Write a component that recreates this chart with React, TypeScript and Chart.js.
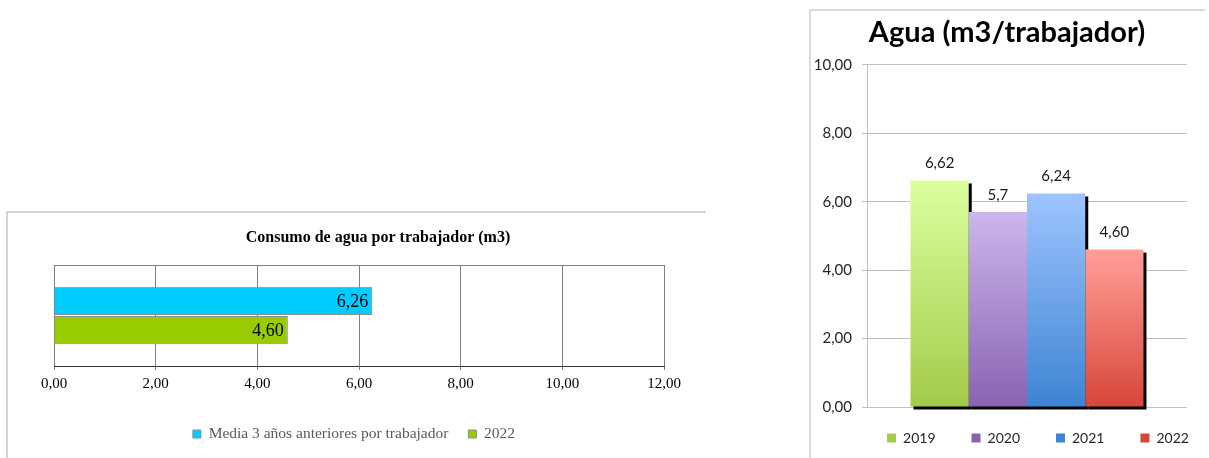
import React, { useEffect, useRef } from 'react';
import { Chart, registerables } from 'chart.js';

Chart.register(...registerables);

// ---------- Data: left chart ----------
const consumoTitle = 'Consumo de agua por trabajador (m3)';
const consumoCategories = [''];
const consumoSeriesNames = ['Media 3 años anteriores por trabajador', '2022'];
const consumoMedia = [6.26];
const consumo2022 = [4.6];
const consumoAxisMin = 0;
const consumoAxisMax = 12;
const consumoAxisStep = 2;

// ---------- Data: right chart ----------
const aguaTitle = 'Agua (m3/trabajador)';
const aguaCategories = [''];
const aguaYears = ['2019', '2020', '2021', '2022'];
const aguaValues = [6.62, 5.7, 6.24, 4.6];
const aguaValueLabels = ['6,62', '5,7', '6,24', '4,60'];
const aguaAxisMin = 0;
const aguaAxisMax = 10;
const aguaAxisStep = 2;

// ---------- Styles ----------
const SERIF = "'Liberation Serif', 'Times New Roman', serif";
const SANS = "Lato, 'Open Sans', sans-serif";
const aguaTopColors = ['#DBFF9E', '#CCB6EC', '#9EC4FF', '#FF9F98'];
const aguaBottomColors = ['#A3CB4A', '#8963B2', '#3D84D2', '#D8463A'];
const aguaMidColors = ['#BCE46F', '#A98CCF', '#6DA4E8', '#EC7268'];

const fmtComma2 = (v: any) => Number(v).toFixed(2).replace('.', ',');

function ConsumoChart() {
  const ref = useRef<HTMLCanvasElement>(null);
  useEffect(() => {
    const framePlugin = {
      id: 'consumoFrame',
      beforeDatasetsDraw(chart: any) {
        const c = chart.ctx;
        const a = chart.chartArea;
        c.save();
        c.strokeStyle = '#808080';
        c.lineWidth = 1;
        c.beginPath();
        c.moveTo(a.left, a.top + 0.5);
        c.lineTo(a.right, a.top + 0.5);
        c.stroke();
        c.restore();
      },
      afterDraw(chart: any) {
        const c = chart.ctx;
        c.save();
        c.strokeStyle = '#C8C8C8';
        c.lineWidth = 1.5;
        c.beginPath();
        c.moveTo(7, chart.height);
        c.lineTo(7, 12);
        c.lineTo(706, 12);
        c.stroke();
        c.restore();
      },
      afterLayout(chart: any) {
        if (chart.titleBlock) {
          chart.titleBlock.left += 19;
          chart.titleBlock.right += 19;
        }
        if (chart.legend) {
          chart.legend.left -= 5;
          chart.legend.right -= 5;
        }
      },
    };
    const valuePlugin = {
      id: 'consumoValues',
      afterDatasetsDraw(chart: any) {
        const c = chart.ctx;
        c.save();
        c.font = "18px 'Liberation Serif', serif";
        c.fillStyle = '#000';
        c.textAlign = 'right';
        c.textBaseline = 'middle';
        chart.data.datasets.forEach((ds: any, i: number) => {
          const meta = chart.getDatasetMeta(i);
          meta.data.forEach((el: any, j: number) => {
            const p = el.getProps(['x', 'y'], true);
            c.fillText(fmtComma2(ds.data[j]), p.x - 4, p.y + 1);
          });
        });
        c.restore();
      },
    };
    const chart = new Chart(ref.current as HTMLCanvasElement, {
      type: 'bar',
      data: {
        labels: consumoCategories,
        datasets: [
          {
            label: consumoSeriesNames[0],
            data: consumoMedia,
            backgroundColor: '#00CCFF',
            borderColor: '#8C8C8C',
            borderWidth: 1,
            categoryPercentage: 0.58,
            barPercentage: 0.97,
          },
          {
            label: consumoSeriesNames[1],
            data: consumo2022,
            backgroundColor: '#99CC00',
            borderColor: '#8C8C8C',
            borderWidth: 1,
            categoryPercentage: 0.58,
            barPercentage: 0.97,
          },
        ],
      },
      options: {
        indexAxis: 'y',
        responsive: false,
        animation: false,
        layout: { padding: { left: 54, right: 46, top: 0, bottom: 6.25 } },
        scales: {
          x: {
            min: consumoAxisMin,
            max: consumoAxisMax,
            ticks: {
              stepSize: consumoAxisStep,
              callback: (v: any) => fmtComma2(v),
              font: { family: SERIF, size: 15 },
              color: '#000',
              padding: 5,
              maxRotation: 0,
            },
            grid: { color: '#808080', tickColor: '#808080', tickLength: 4, lineWidth: 1 },
            border: { display: true, color: '#303030', width: 1 },
            afterFit: (s: any) => {
              s.height = 40.25;
            },
          },
          y: { display: false },
        },
        plugins: {
          title: {
            display: true,
            text: consumoTitle,
            color: '#000',
            font: { family: SERIF, size: 16, weight: 'bold' },
            padding: { top: 28, bottom: 17.8 },
          },
          legend: {
            position: 'bottom',
            labels: {
              boxWidth: 8,
              boxHeight: 8,
              padding: 20,
              color: '#595959',
              font: { family: SERIF, size: 15.5 },
            },
          },
          tooltip: { enabled: false },
        },
      } as any,
      plugins: [framePlugin, valuePlugin],
    });
    return () => chart.destroy();
  }, []);
  return (
    <canvas
      ref={ref}
      width={710}
      height={258}
      style={{ position: 'absolute', left: 0, top: 200, width: 710, height: 258 }}
    />
  );
}

function AguaChart() {
  const ref = useRef<HTMLCanvasElement>(null);
  useEffect(() => {
    const shadowPlugin = {
      id: 'aguaShadow',
      beforeDatasetsDraw(chart: any) {
        const c = chart.ctx;
        c.save();
        c.fillStyle = '#000';
        chart.data.datasets.forEach((_ds: any, i: number) => {
          const meta = chart.getDatasetMeta(i);
          meta.data.forEach((el: any) => {
            const p = el.getProps(['x', 'y', 'base', 'width'], true);
            c.fillRect(p.x - p.width / 2 + 3, p.y + 3, p.width, p.base - p.y);
          });
        });
        c.restore();
      },
      afterDatasetsDraw(chart: any) {
        const c = chart.ctx;
        c.save();
        c.font = '15px ' + SANS;
        c.fillStyle = '#1A1A1A';
        c.textAlign = 'center';
        c.textBaseline = 'middle';
        chart.data.datasets.forEach((_ds: any, i: number) => {
          const meta = chart.getDatasetMeta(i);
          meta.data.forEach((el: any) => {
            const p = el.getProps(['x', 'y'], true);
            c.fillText(aguaValueLabels[i], p.x, p.y - 17);
          });
        });
        c.restore();
      },
      afterLayout(chart: any) {
        if (chart.titleBlock) {
          chart.titleBlock.left += 10;
          chart.titleBlock.right += 10;
        }
        if (chart.legend) {
          chart.legend.left += 41;
          chart.legend.right += 41;
          chart.legend.top -= 12;
          chart.legend.bottom -= 12;
        }
      },
      afterDraw(chart: any) {
        const c = chart.ctx;
        c.save();
        c.strokeStyle = '#D0D0D0';
        c.lineWidth = 1.5;
        c.beginPath();
        c.moveTo(10, chart.height);
        c.lineTo(10, 10);
        c.lineTo(405, 10);
        c.stroke();
        c.restore();
      },
    };
    const gradientFor = (i: number) => (ctx: any) => {
      const chart = ctx.chart;
      if (ctx.type !== 'data' || !chart.chartArea || ctx.raw == null) return aguaMidColors[i];
      const y = chart.scales.y;
      const top = y.getPixelForValue(ctx.raw);
      const base = y.getPixelForValue(0);
      if (!isFinite(top) || !isFinite(base)) return aguaMidColors[i];
      const g = chart.ctx.createLinearGradient(0, top, 0, base);
      g.addColorStop(0, aguaTopColors[i]);
      g.addColorStop(1, aguaBottomColors[i]);
      return g;
    };
    const chart = new Chart(ref.current as HTMLCanvasElement, {
      type: 'bar',
      data: {
        labels: aguaCategories,
        datasets: aguaYears.map((year, i) => ({
          label: year,
          data: [aguaValues[i]],
          backgroundColor: gradientFor(i),
          borderWidth: 0,
          categoryPercentage: 0.728,
          barPercentage: 1,
        })),
      },
      options: {
        responsive: false,
        animation: false,
        layout: { padding: { left: 7, right: 22, top: 0, bottom: -9 } },
        scales: {
          x: { display: false },
          y: {
            min: aguaAxisMin,
            max: aguaAxisMax,
            ticks: {
              stepSize: aguaAxisStep,
              callback: (v: any) => fmtComma2(v),
              font: { family: SANS, size: 15 },
              color: '#262626',
              padding: 10,
            },
            grid: { color: '#BFBFBF', tickColor: '#BFBFBF', tickLength: 5, lineWidth: 1 },
            border: { display: true, color: '#BFBFBF', width: 1 },
            afterFit: (s: any) => {
              s.width = 60;
            },
          },
        },
        plugins: {
          title: {
            display: true,
            text: aguaTitle,
            color: '#000',
            font: { family: SANS, size: 29, weight: 'bold' },
            padding: { top: 15, bottom: 15 },
          },
          legend: {
            position: 'bottom',
            labels: {
              boxWidth: 9,
              boxHeight: 9,
              padding: 36,
              color: '#262626',
              font: { family: SANS, size: 14 },
            },
          },
          tooltip: { enabled: false },
        },
      } as any,
      plugins: [shadowPlugin],
    });
    return () => chart.destroy();
  }, []);
  return (
    <canvas
      ref={ref}
      width={409}
      height={458}
      style={{ position: 'absolute', left: 800, top: 0, width: 409, height: 458 }}
    />
  );
}

export default function App() {
  return (
    <div
      style={{
        position: 'absolute',
        left: 0,
        top: 0,
        width: 1209,
        height: 458,
        background: '#fff',
        overflow: 'hidden',
      }}
    >
      <ConsumoChart />
      <AguaChart />
    </div>
  );
}
